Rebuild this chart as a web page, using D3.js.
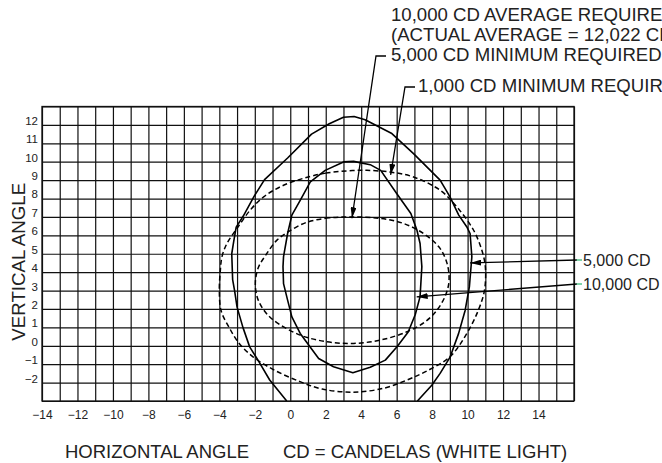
<!DOCTYPE html>
<html>
<head>
<meta charset="utf-8">
<script src="https://cdn.jsdelivr.net/npm/d3@7/dist/d3.min.js"></script>
<style>
  html, body { margin: 0; padding: 0; background: #fff; }
  svg { display: block; font-family: "Liberation Sans", Arial, Helvetica, sans-serif; }
</style>
</head>
<body>
<svg id="chart" width="662" height="463"></svg>
<script>
// ---------- DATA ----------
const xGridValues = d3.range(-14, 17);          // every degree, -14 .. 16
const yGridValues = d3.range(-3, 14);           // every degree, -3 .. 13
const xTickLabels = [-14, -12, -10, -8, -6, -4, -2, 0, 2, 4, 6, 8, 10, 12, 14];
const yTickLabels = [-2, -1, 0, 1, 2, 3, 4, 5, 6, 7, 8, 9, 10, 11, 12];

// Measured 5,000 CD isocandela (solid, outer, open at bottom)
const cd5000H = [-0.2, -1.16, -1.82, -2.29, -2.67, -3.0, -3.14, -3.25, -3.3, -3.2, -3.05, -2.65, -2.05, -1.45, -0.15, 1.2, 2.2, 3.0, 3.6, 4.22, 5.7, 6.95, 8.45, 9.0, 9.5, 9.95, 10.14, 10.24, 10.1, 9.86, 9.49, 9.02, 8.45, 7.98, 7.17];
const cd5000V = [-3.0, -1.86, -0.78, -0.06, 1.0, 2.1, 3.0, 3.6, 5.0, 5.6, 6.45, 7.05, 8.1, 9.03, 10.2, 11.5, 12.06, 12.42, 12.46, 12.28, 11.55, 10.44, 9.0, 8.1, 7.1, 6.47, 6.1, 4.84, 3.2, 1.92, 0.66, -0.6, -1.5, -2.14, -3.0];

// Measured 10,000 CD isocandela (solid, inner, closed)
const cd10000H = [0.56, 0.09, -0.15, -0.38, -0.41, -0.38, -0.15, 0.09, 0.56, 1.13, 1.97, 3.0, 3.57, 4.51, 5.1, 6.0, 6.8, 7.14, 7.32, 7.42, 7.32, 7.05, 6.65, 6.02, 5.36, 4.51, 3.53, 2.44, 1.6];
const cd10000V = [0.67, 1.57, 2.48, 3.38, 4.3, 4.84, 6.1, 7.1, 7.9, 8.9, 9.53, 9.99, 10.02, 9.84, 9.53, 8.27, 7.19, 6.29, 5.56, 4.3, 2.67, 1.7, 0.75, -0.05, -0.78, -1.17, -1.46, -1.14, -0.69];

// 1,000 CD minimum required (dashed, outer, closed)
const req1000H = [3.5, 2.0, 1.13, -0.38, -1.5, -2.26, -3.0, -3.57, -3.85, -3.95, -4.0, -3.9, -3.45, -2.9, -2.1, -0.9, 0.55, 1.8, 3.5, 5.26, 6.58, 7.6, 9.0, 9.95, 10.6, 10.95, 11.0, 10.8, 10.33, 9.39, 8.45, 6.95, 5.63, 4.32];
const req1000V = [9.52, 9.38, 9.2, 8.72, 8.09, 7.37, 6.38, 5.56, 4.84, 4.0, 3.0, 1.9, 1.0, 0.15, -0.6, -1.32, -1.95, -2.35, -2.52, -2.31, -1.86, -1.42, -0.6, 0.66, 1.92, 3.0, 4.3, 5.2, 6.29, 7.55, 8.45, 9.17, 9.44, 9.53];

// 5,000 CD minimum required (dashed, inner, closed)
const req5000H = [3.5, 2.2, 0.9, -0.1, -0.75, -1.4, -1.8, -1.97, -1.85, -1.5, -0.94, 0.56, 2.07, 3.57, 5.08, 6.58, 7.6, 8.26, 8.75, 8.95, 8.85, 8.4, 7.51, 6.38, 5.07];
const req5000V = [7.0, 6.95, 6.7, 6.2, 5.74, 4.9, 4.25, 3.4, 2.6, 1.95, 1.39, 0.58, 0.22, 0.13, 0.31, 0.76, 1.3, 1.92, 2.73, 3.5, 4.45, 5.35, 6.1, 6.65, 6.92];

// Annotation texts and arrow targets (data units)
const topNotes = ["10,000 CD AVERAGE REQUIRED", "(ACTUAL AVERAGE = 12,022 CD)", "5,000 CD MINIMUM REQUIRED", "1,000 CD MINIMUM REQUIRED"];
const arrowTargetsH = [3.48, 5.66, 10.14, 7.13];
const arrowTargetsV = [6.93, 9.28, 4.5, 2.66];
const sideLabels = ["5,000 CD", "10,000 CD"];

// ---------- LAYOUT ----------
const svg = d3.select("#chart");
const x = d3.scaleLinear().domain([-14, 16]).range([42, 574]);
const y = d3.scaleLinear().domain([-3, 13]).range([401, 106.5]);
const W = x(16) - x(-14), H = y(-3) - y(13);
const ink = "#111";
const textCol = "#222";

svg.append("defs").append("clipPath").attr("id", "plotclip")
  .append("rect").attr("x", x(-14)).attr("y", y(13)).attr("width", W).attr("height", H);

const marker = svg.select("defs").append("marker")
  .attr("id", "arrow").attr("viewBox", "0 0 11 6")
  .attr("refX", 11).attr("refY", 3)
  .attr("markerWidth", 11).attr("markerHeight", 6)
  .attr("markerUnits", "userSpaceOnUse")
  .attr("orient", "auto");
marker.append("path").attr("d", "M0,0 L11,3 L0,6 Z").attr("fill", "#000");

// grid via axes
const gx = svg.append("g").attr("transform", `translate(0,${y(-3)})`)
  .call(d3.axisBottom(x).tickValues(xGridValues).tickSize(-H).tickFormat(""));
const gy = svg.append("g").attr("transform", `translate(${x(-14)},0)`)
  .call(d3.axisLeft(y).tickValues(yGridValues).tickSize(-W).tickFormat(""));
[gx, gy].forEach(g => {
  g.select(".domain").remove();
  g.selectAll("line").attr("stroke", ink).attr("stroke-width", 1.2);
});
svg.append("rect").attr("x", x(-14)).attr("y", y(13)).attr("width", W).attr("height", H)
  .attr("fill", "none").attr("stroke", ink).attr("stroke-width", 1.3);

// tick labels via axes
const lx = svg.append("g").attr("transform", `translate(0,${y(-3)})`)
  .call(d3.axisBottom(x).tickValues(xTickLabels).tickSize(0).tickPadding(9).tickFormat(d3.format("d")));
const ly = svg.append("g").attr("transform", `translate(${x(-14)},0)`)
  .call(d3.axisLeft(y).tickValues(yTickLabels).tickSize(0).tickPadding(4).tickFormat(d3.format("d")));
[lx, ly].forEach(g => {
  g.select(".domain").remove();
  g.selectAll("text").attr("fill", textCol)
    .style("font-family", "'Liberation Sans', Arial, sans-serif");
});
lx.selectAll("text").style("font-size", "12px").attr("dy", "0.71em");
ly.selectAll("text").style("font-size", "11.5px").attr("dy", "-0.05em");

// curves
const plot = svg.append("g").attr("clip-path", "url(#plotclip)");
const toPts = (hs, vs) => hs.map((h, i) => [h, vs[i]]);
const lineOpen = d3.line().x(d => x(d[0])).y(d => y(d[1])).curve(d3.curveLinear);
const lineClosed = d3.line().x(d => x(d[0])).y(d => y(d[1])).curve(d3.curveLinearClosed);
const smoothClosed = d3.line().x(d => x(d[0])).y(d => y(d[1])).curve(d3.curveCatmullRomClosed.alpha(0.5));

plot.append("path").attr("d", lineOpen(toPts(cd5000H, cd5000V)))
  .attr("fill", "none").attr("stroke", "#000").attr("stroke-width", 1.6).attr("stroke-linejoin", "round");
plot.append("path").attr("d", lineClosed(toPts(cd10000H, cd10000V)))
  .attr("fill", "none").attr("stroke", "#000").attr("stroke-width", 1.6).attr("stroke-linejoin", "round");
plot.append("path").attr("d", smoothClosed(toPts(req1000H, req1000V)))
  .attr("fill", "none").attr("stroke", "#000").attr("stroke-width", 1.5).attr("stroke-dasharray", "5,3");
plot.append("path").attr("d", smoothClosed(toPts(req5000H, req5000V)))
  .attr("fill", "none").attr("stroke", "#000").attr("stroke-width", 1.5).attr("stroke-dasharray", "5,3");

// top notes (the reference crops them at the right edge)
const noteX = [391, 391, 391, 418];
const noteY = [20.5, 41, 61, 92];
svg.append("g").selectAll("text").data(topNotes).join("text")
  .attr("x", (d, i) => noteX[i]).attr("y", (d, i) => noteY[i])
  .attr("fill", textCol).style("font-size", "18.6px").text(d => d);

// leaders from top notes
const leaderStarts = [[376, 56], [405, 87]];
const bracketEnds = [[386, 56], [415, 87]];
leaderStarts.forEach((s, i) => {
  svg.append("path")
    .attr("d", `M${bracketEnds[i][0]},${bracketEnds[i][1]} L${s[0]},${s[1]} L${x(arrowTargetsH[i])},${y(arrowTargetsV[i])}`)
    .attr("fill", "none").attr("stroke", "#000").attr("stroke-width", 1.3)
    .attr("marker-end", "url(#arrow)");
});

// side labels
const sideY = [260, 284];
sideLabels.forEach((lab, i) => {
  const k = i + 2;
  svg.append("line").attr("x1", 577).attr("y1", sideY[i])
    .attr("x2", x(arrowTargetsH[k])).attr("y2", y(arrowTargetsV[k]))
    .attr("stroke", "#000").attr("stroke-width", 1.3).attr("marker-end", "url(#arrow)");
  svg.append("line").attr("x1", 576.5).attr("y1", sideY[i]).attr("x2", 582).attr("y2", sideY[i])
    .attr("stroke", "#3dbb7a").attr("stroke-width", 1.3);
  svg.append("text").attr("x", 583).attr("y", sideY[i]).attr("dy", "0.36em")
    .attr("fill", textCol).style("font-size", "16px").text(lab);
});

// axis titles
svg.append("text").attr("transform", `translate(18,${(y(-3) + y(13)) / 2 + 8}) rotate(-90)`)
  .attr("text-anchor", "middle").attr("dy", "0.36em")
  .attr("fill", textCol).style("font-size", "18.7px").text("VERTICAL ANGLE");
svg.append("text").attr("x", 65).attr("y", 457.5)
  .attr("fill", textCol).style("font-size", "18.5px").text("HORIZONTAL ANGLE");
svg.append("text").attr("x", 283).attr("y", 457.5)
  .attr("fill", textCol).style("font-size", "18.5px").text("CD = CANDELAS (WHITE LIGHT)");
</script>
</body>
</html>
